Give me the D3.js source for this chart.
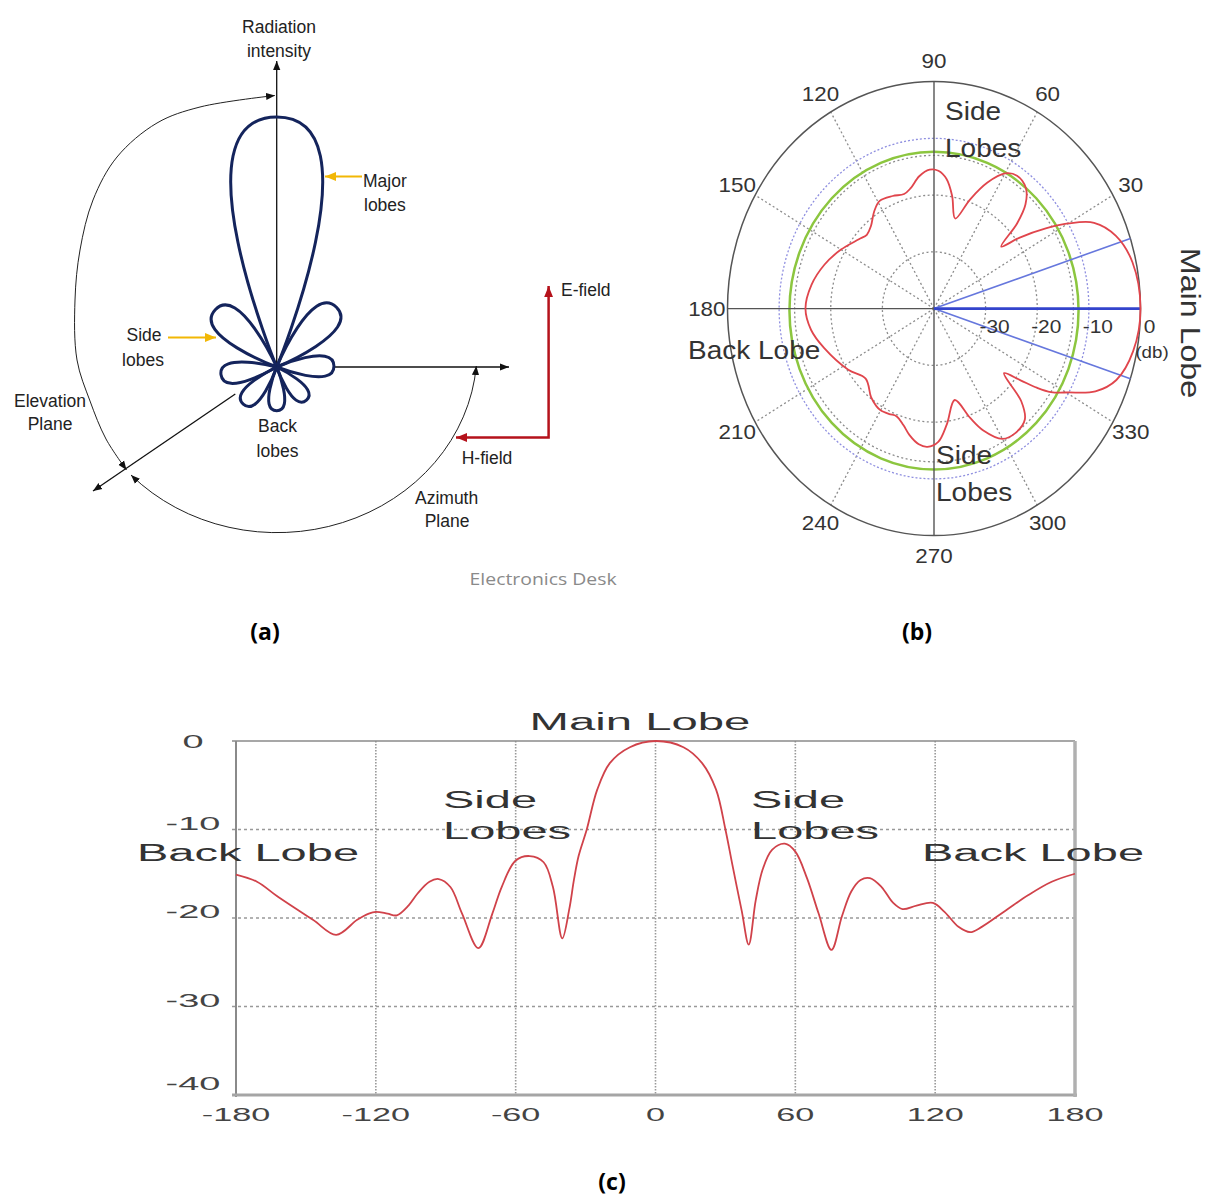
<!DOCTYPE html>
<html>
<head>
<meta charset="utf-8">
<script src="https://cdn.jsdelivr.net/npm/d3@7"></script>
<style>
  body { margin: 0; background: #fff; }
  svg { display: block; }
</style>
</head>
<body>
<svg id="figure" width="1226" height="1200"></svg>
<script>
// ---- values ----
// radiation pattern (angle in degrees, gain in dB); panel (b) and (c) show the same pattern
const patternAngle = [-180, -171, -162, -147, -137, -128, -123, -120, -115, -111, -106, -102, -97, -93, -88, -83,
  -76, -70, -66, -60, -54, -48, -44, -40, -37, -35, -33, -29.5, -25, -19.6, -11, 0,
  12, 20, 26, 30, 33, 37, 40, 43, 46, 50, 55.5, 60, 65, 70, 75.5, 80, 84, 88, 92, 97,
  102, 106, 112, 119, 124, 130, 135, 140, 150, 160, 170, 180];
const patternGain = [-15.1, -15.9, -17.6, -20.2, -21.9, -20.2, -19.5, -19.3, -19.5, -19.7, -18.6, -17.2, -15.9, -15.6, -16.5, -19.5,
  -23.4, -19.5, -16.5, -13.5, -13.0, -13.7, -16.5, -22.3, -19.0, -15.7, -13.0, -10.0, -5.5, -2.5, -0.7, 0,
  -0.7, -2.5, -5.5, -10.0, -14.0, -19.2, -23.0, -18.0, -14.5, -12.3, -11.6, -12.5, -15.5, -19.5, -23.6, -19.8, -17.0, -15.7, -15.5, -16.5,
  -18.3, -19.0, -18.6, -18.3, -19.3, -21.0, -21.6, -21.0, -19.2, -17.4, -15.9, -15.0];

// panel (c) axes
const gainTicks = [0, -10, -20, -30, -40];
const angleTicks = [-180, -120, -60, 0, 60, 120, 180];

// panel (b) polar grid
const polarAngleLabels = [30, 60, 90, 120, 150, 180, 210, 240, 270, 300, 330];
const polarSpokes = [30, 60, 120, 150, 210, 240, 300, 330];
const polarRings = [-30, -20, -13];
const polarRingLabels = [-30, -20, -10, 0];
const beamEdges = [18, -18];
const greenRing = -12;
const blueRing = -10;

// panel (a) schematic lobes: direction (deg clockwise from vertical), relative length
const lobeDirection = [0, -47, 45, -98, 89, -138, 180, 138];
const lobeLength = [1, 0.336, 0.338, 0.225, 0.229, 0.2, 0.175, 0.178];

const sans = "'Liberation Sans', Arial, Helvetica, sans-serif";
const svg = d3.select("#figure");

// text helper: translate, optional rotate and horizontal stretch
function label(g, str, x, y, o = {}) {
    const size = o.size || 17, sx = o.sx || 1, rot = o.rotate || 0;
    return g.append("text")
        .attr("transform", `translate(${x},${y}) rotate(${rot}) scale(${sx},1)`)
        .attr("text-anchor", o.anchor || "start")
        .attr("font-family", o.family || sans)
        .attr("font-size", size)
        .attr("font-weight", o.weight || 400)
        .attr("fill", o.color || "#222")
        .text(str);
}

// arrow heads
const defs = svg.append("defs");
[["tipBlack", "#111", 9], ["tipRed", "#b5121b", 11], ["tipYellow", "#f2b705", 11]].forEach(([id, color, size]) => {
    defs.append("marker")
        .attr("id", id)
        .attr("viewBox", "0 0 10 10")
        .attr("refX", 10).attr("refY", 5)
        .attr("markerUnits", "userSpaceOnUse")
        .attr("markerWidth", size).attr("markerHeight", size)
        .attr("orient", "auto-start-reverse")
        .append("path").attr("d", "M0,1 L10,5 L0,9 Z").attr("fill", color);
});

// ================= Panel (a): schematic pattern =================
const a = svg.append("g");
const origin = [276.7, 367];
const lobeScale = d3.scaleLinear().domain([0, 1]).range([0, 250]);

function lobePath(len) {
    const w = 0.414 * len;
    const p = d3.path();
    p.moveTo(0, 0);
    p.bezierCurveTo(0, 0, -w, -len, 0, -len);
    p.bezierCurveTo(w, -len, 0, 0, 0, 0);
    return p.toString();
}

// elevation arc (hand drawn in the original)
const elevationArc = [[126.5, 470], [106, 439], [90, 401], [77, 360], [75, 300], [80, 250], [93, 200], [117, 157], [157, 123], [200, 107], [275, 95.5]];
a.append("path")
    .attr("d", d3.line().curve(d3.curveCatmullRom)(elevationArc))
    .attr("fill", "none").attr("stroke", "#222").attr("stroke-width", 1)
    .attr("marker-start", "url(#tipBlack)")
    .attr("marker-end", "url(#tipBlack)");

// azimuth arc
a.append("path")
    .attr("d", "M131,475 A200 182 0 0 0 476.3 366")
    .attr("fill", "none").attr("stroke", "#222").attr("stroke-width", 1)
    .attr("marker-start", "url(#tipBlack)")
    .attr("marker-end", "url(#tipBlack)");

// axes
a.append("line")
    .attr("x1", origin[0]).attr("y1", origin[1]).attr("x2", origin[0]).attr("y2", 61)
    .attr("stroke", "#111").attr("stroke-width", 1.3).attr("marker-end", "url(#tipBlack)");
a.append("line")
    .attr("x1", origin[0] + lobeScale(0.229)).attr("y1", origin[1]).attr("x2", 509).attr("y2", origin[1])
    .attr("stroke", "#111").attr("stroke-width", 1.3).attr("marker-end", "url(#tipBlack)");
a.append("line")
    .attr("x1", 235.3).attr("y1", 394).attr("x2", 93).attr("y2", 491)
    .attr("stroke", "#111").attr("stroke-width", 1.3).attr("marker-end", "url(#tipBlack)");

// lobes
a.selectAll("path.lobe")
    .data(lobeDirection.map((d, i) => ({ dir: d, len: lobeLength[i] })))
    .join("path")
    .attr("class", "lobe")
    .attr("d", d => lobePath(lobeScale(d.len)))
    .attr("transform", d => `translate(${origin[0]},${origin[1]}) rotate(${d.dir})`)
    .attr("fill", "none")
    .attr("stroke", "#14245c")
    .attr("stroke-width", 3)
    .attr("stroke-linejoin", "round");

// E / H field
a.append("path")
    .attr("d", "M548.6,286 V437.5 H456")
    .attr("fill", "none").attr("stroke", "#b5121b").attr("stroke-width", 2.5)
    .attr("marker-start", "url(#tipRed)").attr("marker-end", "url(#tipRed)");

// yellow pointers
a.append("line").attr("x1", 362).attr("y1", 176.5).attr("x2", 325).attr("y2", 176.5)
    .attr("stroke", "#f2b705").attr("stroke-width", 2).attr("marker-end", "url(#tipYellow)");
a.append("line").attr("x1", 168).attr("y1", 337.5).attr("x2", 216).attr("y2", 337.5)
    .attr("stroke", "#f2b705").attr("stroke-width", 2).attr("marker-end", "url(#tipYellow)");

// labels
label(a, "Radiation", 279, 32.5, { anchor: "middle", size: 17.5 });
label(a, "intensity", 279, 56.5, { anchor: "middle", size: 17.5 });
label(a, "Major", 363, 187, { size: 17.5 });
label(a, "lobes", 364, 211, { size: 17.5 });
label(a, "Side", 144, 341, { anchor: "middle", size: 17.5 });
label(a, "lobes", 143, 365.5, { anchor: "middle", size: 17.5 });
label(a, "Elevation", 50, 407, { anchor: "middle", size: 17.5 });
label(a, "Plane", 50, 430, { anchor: "middle", size: 17.5 });
label(a, "Back", 277.5, 432, { anchor: "middle", size: 17.5 });
label(a, "lobes", 277.5, 456.5, { anchor: "middle", size: 17.5 });
label(a, "E-field", 561, 296, { size: 17.5 });
label(a, "H-field", 487, 463.5, { anchor: "middle", size: 17.5 });
label(a, "Azimuth", 446.6, 504.4, { anchor: "middle", size: 17.5 });
label(a, "Plane", 447, 527.3, { anchor: "middle", size: 17.5 });
a.append("text")
    .attr("x", 469.6).attr("y", 584.6)
    .attr("font-family", "'Open Sans', sans-serif").attr("font-size", 16.5)
    .attr("fill", "#8a8a8a")
    .attr("textLength", 147).attr("lengthAdjust", "spacingAndGlyphs")
    .text("Electronics Desk");

// ================= Panel (b): polar plot =================
const b = svg.append("g");
const P = { cx: 934, cy: 308.6, rx: 206.5, ry: 227 };
const rScale = d3.scaleLinear().domain([-40, 0]).range([0, 1]);
const rad = deg => deg * Math.PI / 180;
const polarX = (deg, db) => P.cx + P.rx * rScale(db) * Math.cos(rad(deg));
const polarY = (deg, db) => P.cy - P.ry * rScale(db) * Math.sin(rad(deg));

// dotted rings
b.selectAll("ellipse.ring").data(polarRings).join("ellipse")
    .attr("cx", P.cx).attr("cy", P.cy)
    .attr("rx", d => P.rx * rScale(d)).attr("ry", d => P.ry * rScale(d))
    .attr("fill", "none").attr("stroke", "#8c8c8c").attr("stroke-width", 1.3)
    .attr("stroke-dasharray", "2,2.5");

// dotted spokes
b.selectAll("line.spoke").data(polarSpokes).join("line")
    .attr("x1", P.cx).attr("y1", P.cy)
    .attr("x2", d => polarX(d, 0)).attr("y2", d => polarY(d, 0))
    .attr("stroke", "#8c8c8c").attr("stroke-width", 1.3)
    .attr("stroke-dasharray", "2,2.5");

// blue dotted ring and green threshold ring
b.append("ellipse")
    .attr("cx", P.cx).attr("cy", P.cy)
    .attr("rx", P.rx * rScale(blueRing)).attr("ry", P.ry * rScale(blueRing))
    .attr("fill", "none").attr("stroke", "#8f8fe0").attr("stroke-width", 1.3)
    .attr("stroke-dasharray", "2,2");
b.append("ellipse")
    .attr("cx", P.cx).attr("cy", P.cy + 2)
    .attr("rx", P.rx * rScale(greenRing)).attr("ry", P.ry * rScale(greenRing))
    .attr("fill", "none").attr("stroke", "#8cc63f").attr("stroke-width", 2.5);

// solid axes and outer ring
b.selectAll("line.axis").data([0, 90]).join("line")
    .attr("x1", d => polarX(d + 180, 0)).attr("y1", d => polarY(d + 180, 0))
    .attr("x2", d => polarX(d, 0)).attr("y2", d => polarY(d, 0))
    .attr("stroke", "#555").attr("stroke-width", 1.4);
b.append("ellipse")
    .attr("cx", P.cx).attr("cy", P.cy).attr("rx", P.rx).attr("ry", P.ry)
    .attr("fill", "none").attr("stroke", "#555").attr("stroke-width", 1.5);

// beam lines
b.selectAll("line.beam").data(beamEdges).join("line")
    .attr("x1", P.cx).attr("y1", P.cy)
    .attr("x2", d => polarX(d, 0)).attr("y2", d => polarY(d, 0))
    .attr("stroke", "#6677dd").attr("stroke-width", 1.6);
b.append("line")
    .attr("x1", P.cx).attr("y1", P.cy)
    .attr("x2", polarX(0, 0)).attr("y2", polarY(0, 0))
    .attr("stroke", "#3344cc").attr("stroke-width", 2.6);

// pattern
const pattern = patternAngle.map((ang, i) => ({ angle: ang, gain: patternGain[i] }));
b.append("path")
    .datum(pattern.slice(0, -1))
    .attr("d", d3.line()
        .x(d => polarX(d.angle, d.gain))
        .y(d => polarY(d.angle, d.gain))
        .curve(d3.curveCatmullRomClosed.alpha(0.5)))
    .attr("fill", "none").attr("stroke", "#e0454c").attr("stroke-width", 1.8);

// angle labels
b.selectAll("text.ang").data(polarAngleLabels).join("text")
    .attr("class", "ang")
    .attr("transform", d => `translate(${P.cx + 1.1 * P.rx * Math.cos(rad(d))},${P.cy - 1.09 * P.ry * Math.sin(rad(d))}) scale(1.12,1)`)
    .attr("text-anchor", "middle").attr("dominant-baseline", "central")
    .attr("font-family", sans).attr("font-size", 20).attr("fill", "#333")
    .text(d => d);

// ring labels
b.selectAll("text.ringlab").data(polarRingLabels).join("text")
    .attr("class", "ringlab")
    .attr("transform", d => `translate(${P.cx + P.rx * rScale(d) + 9},333) scale(1.1,1)`)
    .attr("text-anchor", "middle")
    .attr("font-family", sans).attr("font-size", 19).attr("fill", "#333")
    .text(d => d);
label(b, "(db)", 1152, 358, { anchor: "middle", size: 17, sx: 1.1, color: "#333" });

label(b, "Side", 945, 120, { size: 25, sx: 1.12, color: "#333" });
label(b, "Lobes", 945, 157, { size: 25, sx: 1.12, color: "#333" });
label(b, "Back Lobe", 688, 359, { size: 25, sx: 1.12, color: "#333" });
label(b, "Side", 936, 464, { size: 25, sx: 1.12, color: "#333" });
label(b, "Lobes", 936, 501, { size: 25, sx: 1.12, color: "#333" });
label(b, "Main Lobe", 1181, 323, { size: 28, sx: 1.15, rotate: 90, anchor: "middle", color: "#333" });

// ================= Panel (c): rectangular plot =================
const c = svg.append("g");
const xC = d3.scaleLinear().domain([-180, 180]).range([236, 1075]);
const yC = d3.scaleLinear().domain([-40, 0]).range([1095, 741]);

c.selectAll("line.vgrid").data(angleTicks.slice(1, -1)).join("line")
    .attr("x1", d => xC(d)).attr("x2", d => xC(d))
    .attr("y1", yC(0)).attr("y2", yC(-40))
    .attr("stroke", "#999").attr("stroke-width", 1.6).attr("stroke-dasharray", "1.5,1.5");
c.selectAll("line.hgrid").data(gainTicks.slice(1, -1)).join("line")
    .attr("x1", xC(-180) - 4).attr("x2", xC(180))
    .attr("y1", d => yC(d)).attr("y2", d => yC(d))
    .attr("stroke", "#999").attr("stroke-width", 1.3).attr("stroke-dasharray", "3,3");

// frame
c.append("line").attr("x1", xC(-180) - 4).attr("x2", xC(180)).attr("y1", yC(0)).attr("y2", yC(0))
    .attr("stroke", "#8a8a8a").attr("stroke-width", 1.6);
c.append("line").attr("x1", xC(-180)).attr("x2", xC(-180)).attr("y1", yC(0)).attr("y2", yC(-40) + 2)
    .attr("stroke", "#8a8a8a").attr("stroke-width", 2);
c.append("line").attr("x1", xC(-180) - 4).attr("x2", xC(180) + 2).attr("y1", yC(-40)).attr("y2", yC(-40))
    .attr("stroke", "#a5a5a5").attr("stroke-width", 3);
c.append("line").attr("x1", xC(180)).attr("x2", xC(180)).attr("y1", yC(0)).attr("y2", yC(-40) + 2)
    .attr("stroke", "#b0b0b0").attr("stroke-width", 3.5);

// curve
c.append("path")
    .datum(pattern)
    .attr("d", d3.line()
        .x(d => xC(d.angle))
        .y(d => yC(d.gain))
        .curve(d3.curveCatmullRom.alpha(0.5)))
    .attr("fill", "none").attr("stroke", "#d0424a").attr("stroke-width", 1.8);

// tick labels
c.selectAll("text.ytick").data(gainTicks).join("text")
    .attr("class", "ytick")
    .attr("transform", d => `translate(193,${yC(d) + (d === 0 ? 7 : d === -40 ? -5 : 0)}) scale(2.05,1)`)
    .attr("text-anchor", "middle")
    .attr("font-family", sans).attr("font-size", 18.5).attr("fill", "#444")
    .text(d => d);
c.selectAll("text.xtick").data(angleTicks).join("text")
    .attr("class", "xtick")
    .attr("transform", d => `translate(${xC(d)},1121) scale(1.85,1)`)
    .attr("text-anchor", "middle")
    .attr("font-family", sans).attr("font-size", 18.5).attr("fill", "#444")
    .text(d => d);

label(c, "Main Lobe", 640, 730, { anchor: "middle", size: 24, sx: 1.97, color: "#333" });
label(c, "Side", 443, 808, { size: 23.5, sx: 2.0, color: "#333" });
label(c, "Lobes", 443, 839, { size: 23.5, sx: 2.0, color: "#333" });
label(c, "Side", 751, 808, { size: 23.5, sx: 2.0, color: "#333" });
label(c, "Lobes", 751, 839, { size: 23.5, sx: 2.0, color: "#333" });
label(c, "Back Lobe", 137, 861, { size: 23.5, sx: 2.0, color: "#333" });
label(c, "Back Lobe", 922, 861, { size: 23.5, sx: 2.0, color: "#333" });

// ================= panel captions =================
const open = "'Open Sans', 'Liberation Sans', sans-serif";
label(svg, "(a)", 265, 640, { anchor: "middle", size: 23, weight: 700, family: open, color: "#000" });
label(svg, "(b)", 917, 640, { anchor: "middle", size: 23, weight: 700, family: open, color: "#000" });
label(svg, "(c)", 612, 1190, { anchor: "middle", size: 23, weight: 700, family: open, color: "#000" });
</script>
</body>
</html>
